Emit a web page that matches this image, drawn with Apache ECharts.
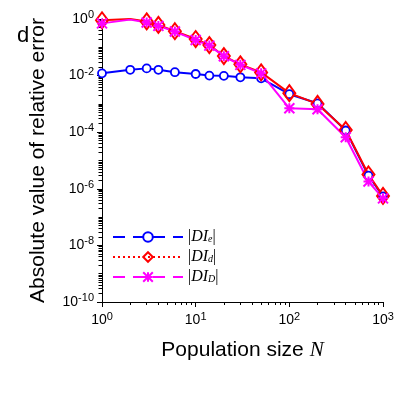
<!DOCTYPE html>
<html>
<head>
<meta charset="utf-8">
<script src="https://cdn.jsdelivr.net/npm/echarts@6/dist/echarts.min.js"></script>
<style>
  html, body { margin: 0; padding: 0; background: #fff; }
  #main { width: 405px; height: 405px; }
</style>
</head>
<body>
<div id="main"></div>
<script>
// population sizes
var popN = [1, 2, 3, 4, 6, 10, 14, 20, 30, 50, 100, 200, 400, 700, 1000];
// |DI_e|, |DI_d|, |DI_D|
var errE = [0.012, 0.016, 0.018, 0.016, 0.0132, 0.0114, 0.0100, 0.0098, 0.0087, 0.0080, 0.0022, 0.00105, 1.15e-4, 2.9e-6, 5.4e-7];
var errDd = [0.9, 1.0, 0.82, 0.62, 0.37, 0.196, 0.12, 0.049, 0.025, 0.013, 0.0024, 0.001, 1.2e-4, 3.2e-6, 5.6e-7];
var errDD = [0.70, 0.95, 0.75, 0.57, 0.36, 0.18, 0.115, 0.048, 0.024, 0.012, 7e-4, 6.5e-4, 6.6e-5, 1.8e-6, 4.6e-7];
// points drawn without a marker
var noMarker = [2];

var xMinor = [];
var yMinor = [];
for (var d = 0; d < 3; d++) {
  for (var k = 2; k <= 9; k++) xMinor.push(k * Math.pow(10, d));
}
for (var e = -10; e < 0; e++) {
  for (var k = 1; k <= 9; k++) {
    if (k == 1 && e % 2 == 0) continue;
    yMinor.push(k * Math.pow(10, e));
  }
}

function pairs(ys, hide) {
  return popN.map(function (n, i) {
    var item = { value: [n, ys[i]] };
    if (hide && noMarker.indexOf(n) >= 0) item.symbolSize = 0;
    return item;
  });
}

var starPath = 'path://M0,0L10,10M10,0L0,10M5,0L5,10M0,5L10,5';
var sans = 'Liberation Sans';
var serif = 'Liberation Serif';

var supRich = {
  b: { fontSize: 14, fontFamily: sans, color: '#000' },
  s: { fontSize: 11, fontFamily: sans, color: '#000', padding: [0, 0, 8, 0] }
};

function powLabel(v) {
  var p = Math.round(Math.log10(v));
  return '{b|10}{s|' + p + '}';
}

var legRich = {
  t: { fontFamily: serif, fontSize: 16, fontStyle: 'italic', color: '#000' },
  v: { fontFamily: serif, fontSize: 16, color: '#000' },
  u: { fontFamily: serif, fontSize: 10, fontStyle: 'italic', color: '#000', padding: [5, 0, 0, 0] }
};
var subs = { 'DIe': 'e', 'DId': 'd', 'DID': 'D' };

var chart = echarts.init(document.getElementById('main'));
chart.setOption({
  animation: false,
  title: {
    text: 'd', left: 12, top: 20,
    textStyle: { fontFamily: sans, fontSize: 22, fontWeight: 'normal', color: '#000' }
  },
  grid: { left: 102, right: 22, top: 19, bottom: 103 },
  legend: {
    orient: 'vertical', left: 107, top: 224,
    itemWidth: 70, itemHeight: 12, itemGap: 4,
    data: [
      { name: 'DIe', lineStyle: { type: [12, 8], width: 2 } },
      { name: 'DId', lineStyle: { type: [2, 3], width: 2 } },
      { name: 'DID', lineStyle: { type: [12, 8], width: 2 } }
    ],
    formatter: function (name) {
      return '{v||}{t|DI}{u|' + subs[name] + '}{v||}';
    },
    textStyle: { rich: legRich }
  },
  xAxis: [{
    type: 'log', logBase: 10, min: 1, max: 1000,
    name: '{a|Population size }{i|N}',
    nameLocation: 'middle', nameGap: 38,
    nameTextStyle: {
      rich: {
        a: { fontFamily: sans, fontSize: 21, color: '#000' },
        i: { fontFamily: serif, fontSize: 21, fontStyle: 'italic', color: '#000' }
      }
    },
    axisLine: { lineStyle: { color: '#000', width: 1 } },
    axisTick: { show: true, inside: false, length: 5, lineStyle: { color: '#000' } },
    axisLabel: { formatter: powLabel, rich: supRich, margin: 9 },
    splitLine: { show: false }
  }, {
    type: 'log', logBase: 10, min: 1, max: 1000, position: 'bottom', offset: 0,
    axisLine: { show: false },
    axisTick: { show: true, length: 3, customValues: xMinor, lineStyle: { color: '#000' } },
    axisLabel: { show: false },
    splitLine: { show: false }
  }],
  yAxis: [{
    type: 'log', logBase: 10, min: 1e-10, max: 1, interval: 2,
    name: 'Absolute value of relative error',
    nameLocation: 'middle', nameGap: 53,
    nameTextStyle: { fontFamily: sans, fontSize: 21, color: '#000' },
    axisLine: { show: true, lineStyle: { color: '#000', width: 1 } },
    axisTick: { show: true, inside: false, length: 5, lineStyle: { color: '#000' } },
    axisLabel: { formatter: powLabel, rich: supRich, margin: 8 },
    splitLine: { show: false }
  }, {
    type: 'log', logBase: 10, min: 1e-10, max: 1, position: 'left', offset: 0,
    axisLine: { show: false },
    axisTick: { show: true, length: 3.5, customValues: yMinor, lineStyle: { color: '#000' } },
    axisLabel: { show: false },
    splitLine: { show: false }
  }],
  series: [{
    name: 'DIe', type: 'line', data: pairs(errE, false),
    symbol: 'circle', symbolSize: 8,
    itemStyle: { color: '#fff', borderColor: '#0000ff', borderWidth: 1.8 },
    lineStyle: { color: '#0000ff', width: 2 }
  }, {
    name: 'DId', type: 'line', data: pairs(errDd, true),
    symbol: 'diamond', symbolSize: [12, 16],
    itemStyle: { color: 'rgba(255,255,255,0)', borderColor: '#ff0000', borderWidth: 2 },
    lineStyle: { color: '#ff0000', width: 2 }
  }, {
    name: 'DID', type: 'line', data: pairs(errDD, true),
    symbol: starPath, symbolSize: 10,
    itemStyle: { color: 'none', borderColor: '#ff00ff', borderWidth: 2 },
    lineStyle: { color: '#ff00ff', width: 2 }
  }]
});
</script>
</body>
</html>
